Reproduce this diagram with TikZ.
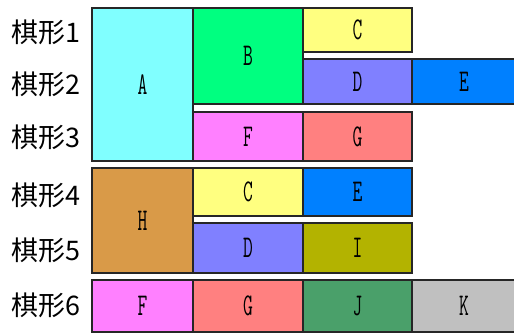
\documentclass[tikz,border=0pt]{standalone}
\usepackage{fontspec}
\usepackage{graphicx}
\usepackage{xcolor}
\newfontfamily\cjk{Noto Sans CJK SC}
\definecolor{cA}{HTML}{80FFFF}
\definecolor{cB}{HTML}{00FF80}
\definecolor{cC}{HTML}{FFFF80}
\definecolor{cD}{HTML}{8080FF}
\definecolor{cE}{HTML}{0080FF}
\definecolor{cF}{HTML}{FF80FF}
\definecolor{cG}{HTML}{FF8080}
\definecolor{cH}{HTML}{D99A48}
\definecolor{cI}{HTML}{B3B300}
\definecolor{cJ}{HTML}{4AA06A}
\definecolor{cK}{HTML}{C0C0C0}
\newcommand{\narrow}[1]{\scalebox{0.6}[1]{#1}}

\begin{document}
\begin{tikzpicture}[
    x=0.03cm, y=-0.03cm,
    cell/.style={draw=black!85, line width=1.1pt},
    tag/.style={font=\ttfamily\fontsize{27}{27}\selectfont},
    rowname/.style={anchor=east, inner sep=0pt, font=\cjk\fontsize{23}{23}\selectfont}
]
\useasboundingbox (0,0) rectangle (514,333);

% row labels
\foreach \i/\y in {1/32, 2/84, 3/137, 4/195, 5/250, 6/305} {
    \node[rowname] (row\i) at (81,\y) {棋形\i};
}

% blocks
\foreach \nm/\xa/\ya/\xb/\yb/\col/\txt in {
    a/92/8/193/161/cA/A, b/193/8/303/104/cB/B,
    c1/303/8/412/52/cC/C, d1/303/59/412/104/cD/D,
    e1/412/59/516/104/cE/E, f1/193/112/303/161/cF/F,
    g1/303/112/412/161/cG/G,
    h/92/168/193/273/cH/H, c4/193/168/303/216/cC/C,
    e4/303/168/412/216/cE/E, d4/193/223/303/273/cD/D,
    i/303/223/412/273/cI/I,
    f6/92/280/193/332/cF/F, g6/193/280/303/332/cG/G,
    j/303/280/412/332/cJ/J, k/412/280/516/332/cK/K}
{
    \draw[cell, fill=\col] (\xa,\ya) rectangle (\xb,\yb)
        node[tag, midway] (\nm) {\narrow{\txt}};
}

\end{tikzpicture}
\end{document}
